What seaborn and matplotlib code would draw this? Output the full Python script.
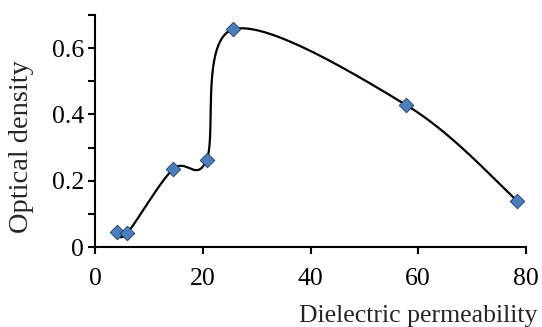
import numpy as np
import matplotlib
matplotlib.use("Agg")
import matplotlib.pyplot as plt
import seaborn as sns
import pandas as pd

# data
permeability = [4.0, 6.0, 14.5, 20.7, 25.7, 57.8, 78.4]
density = [0.046, 0.043, 0.235, 0.262, 0.657, 0.428, 0.139]
x_ticks = [0, 20, 40, 60, 80]
x_tick_labels = ["0", "20", "40", "60", "80"]
y_ticks = [0, 0.2, 0.4, 0.6]
y_tick_labels = ["0", "0.2", "0.4", "0.6"]
x_label = "Dielectric permeability"
y_label = "Optical density"

sns.set_theme(style="ticks")
plt.rcParams['font.family'] = ['Liberation Serif', 'DejaVu Serif']

fig = plt.figure(figsize=(5.42, 3.27), dpi=100)
ax = fig.add_axes([95/542, 1-247/327, (526-95)/542, (247-15)/327])
ax.set_xlim(0, 80)
ax.set_ylim(0, 0.7)

df = pd.DataFrame({"x": permeability, "y": density})

# Excel-style smoothed line (Bezier through points, computed in display space)
pts = ax.transData.transform(np.column_stack([df.x, df.y]))
P = np.vstack([pts[0], pts, pts[-1]])
segs = []
t = np.linspace(0, 1, 60)[:, None]
for i in range(1, len(P) - 2):
    p0, p1, p2, p3 = P[i-1], P[i], P[i+1], P[i+2]
    c1 = p1 + (p2 - p0) / 6
    c2 = p2 - (p3 - p1) / 6
    seg = (1-t)**3*p1 + 3*(1-t)**2*t*c1 + 3*(1-t)*t**2*c2 + t**3*p2
    segs.append(seg if i == 1 else seg[1:])
curve = ax.transData.inverted().transform(np.vstack(segs))
cdf = pd.DataFrame({"x": curve[:, 0], "y": curve[:, 1]})

sns.lineplot(data=cdf, x="x", y="y", sort=False, ax=ax, color="black",
             linewidth=1.6, estimator=None)
sns.scatterplot(data=df, x="x", y="y", ax=ax, marker="D", s=55,
                color="#4a7ebb", edgecolor="#1f3b66", linewidth=0.6, zorder=5)

ax.set_xlim(0, 80)
ax.set_ylim(0, 0.7)
ax.set_xticks(x_ticks)
ax.set_xticklabels(x_tick_labels)
ax.set_yticks(y_ticks)
ax.set_yticklabels(y_tick_labels)
ax.set_yticks(np.arange(0.1, 0.71, 0.2), minor=True)
ax.tick_params(axis="both", which="both", direction="out", length=5, width=1.5,
               labelsize=18.5, color="black", labelcolor="black")
ax.tick_params(axis="x", pad=10)
ax.tick_params(axis="y", pad=3)
for s in ["top", "right"]:
    ax.spines[s].set_visible(False)
for s in ["left", "bottom"]:
    ax.spines[s].set_linewidth(1.5)
    ax.spines[s].set_color("black")

ax.set_xlabel("")
ax.set_ylabel("")
fig.text(537/542, 1-322/327, x_label, ha="right", va="baseline", fontsize=18.5)
fig.text(22/542, 1-146.5/327, y_label, ha="center", va="center", rotation=90, fontsize=20.5)

fig.savefig("out.png", dpi=100)
